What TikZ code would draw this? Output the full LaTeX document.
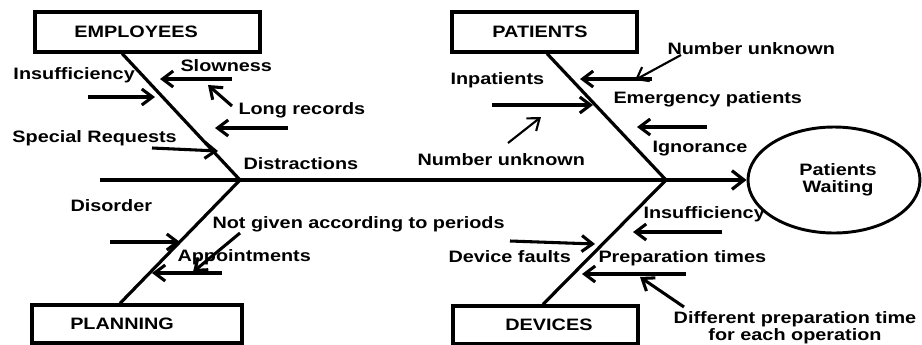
\documentclass[tikz,border=0pt]{standalone}
\usepackage{fontspec}
\setmainfont{Liberation Sans}[FakeStretch=1.2]
\usetikzlibrary{arrows.meta,shapes.geometric}

\tikzset{every picture/.style={line width=0.75pt}}
\tikzset{
  txt/.style={font=\fontsize{12.4}{12.8}\selectfont\bfseries},
  lbl/.style={txt,anchor=base west,inner sep=0pt},
  box/.style={draw,line width=2.4pt,minimum height=30pt},
  bone/.style={line width=2.4pt},
  cause/.style={line width=2.3pt,-{Straight Barb[length=8pt,width=12pt]}},
  thincause/.style={cause,line width=1.6pt},
}

\begin{document}
\begin{tikzpicture}[x=0.75pt,y=0.75pt,yscale=-1,xscale=1]
\useasboundingbox (0,0) rectangle (922,344);

%Shape: Rectangle [category boxes]
\node [box,minimum width=168.75pt,label={[txt,xshift=-8.6pt]center:EMPLOYEES}] (emp) at (147.5,32) {};
\node [box,minimum width=138.75pt,label={[txt,xshift=-3.4pt]center:PATIENTS}] (pat) at (544.5,32) {};
\node [box,minimum width=157.5pt,minimum height=28.5pt,label={[txt,xshift=-11.2pt]center:PLANNING}] (plan) at (137,324) {};
\node [box,minimum width=138.75pt,minimum height=28.5pt,label={[txt,xshift=2.6pt]center:DEVICES}] (dev) at (545.5,325) {};
%Shape: Ellipse [effect]
\node [ellipse,draw,txt,line width=2.2pt,align=center,minimum width=129pt,minimum height=79.5pt] (wait) at (834,180) {\hspace*{6pt}Patients\\\hspace*{6pt}Waiting};

%Straight Lines [spine]
\coordinate (tail) at (100,180);
\coordinate (jA) at (240,180);
\coordinate (jB) at (666,180);
\draw [bone,-{Straight Barb[length=9pt,width=14pt]}] (tail) -- (wait.west);
%Straight Lines [bones]
\draw [bone] ([xshift=-19pt]emp.south) -- (jA);
\draw [bone] (jA) -- ([xshift=-12.75pt]plan.north);
\draw [bone] ([xshift=1.9pt]pat.south) -- (jB);
\draw [bone] (jB) -- ([xshift=-1.9pt]dev.north);

%Straight Lines [causes]
\foreach \nm/\a/\b in {insE/{88,97}/{155,97}, slow/{232,79}/{160,79},
    longA/{232,106}/{208,85}, longB/{288,128}/{215,128}, spec/{152,148}/{218,151},
    dis/{110,242}/{180,242}, notg/{240,233}/{193,272}, appt/{222,273}/{152,273},
    inp/{492,105}/{593,105}, emer/{652,79}/{580,79}, ign/{707,127}/{637,127},
    insD/{722,232}/{633,232}, prep/{686,274}/{582,274}, diff/{684,307}/{640,277},
    devf/{510,241}/{595,244}}{
  \coordinate (\nm-s) at (\a);
  \coordinate (\nm-e) at (\b);
  \draw [cause] (\nm-s) -- (\nm-e);
}
\foreach \nm/\a/\b in {numL/{508,143}/{541,117}, numU/{681,55}/{635,80}}{
  \coordinate (\nm-s) at (\a);
  \coordinate (\nm-e) at (\b);
  \draw [thincause] (\nm-s) -- (\nm-e);
}

% Text Node
\node [lbl] (tInsE) at (13,79) {Insufficiency};
\node [lbl] (tSlow) at (180,71) {Slowness};
\node [lbl] (tLong) at (238,114) {Long records};
\node [lbl] (tSpec) at (12,142) {Special Requests};
\node [lbl] (tDistr) at (243,169) {Distractions};
% Text Node
\node [lbl] (tDis) at (70,211) {Disorder};
\node [lbl] (tNotg) at (212,228) {Not given according to periods};
\node [lbl] (tAppt) at (177,261) {Appointments};
% Text Node
\node [lbl] (tInp) at (450,84) {Inpatients};
\node [lbl] (tNumL) at (417,165) {Number unknown};
\node [lbl] (tNumU) at (667,54) {Number unknown};
\node [lbl] (tEmer) at (613,103) {Emergency patients};
\node [lbl] (tIgn) at (652,152) {Ignorance};
% Text Node
\node [lbl] (tInsD) at (643,218) {Insufficiency};
\node [lbl] (tPrep) at (598,262) {Preparation times};
\node [lbl] (tDevf) at (448,262) {Device faults};
\node [txt,align=center,inner sep=0pt] (tDiff) at (795,328) {Different preparation time\\for each operation};

\end{tikzpicture}
\end{document}
